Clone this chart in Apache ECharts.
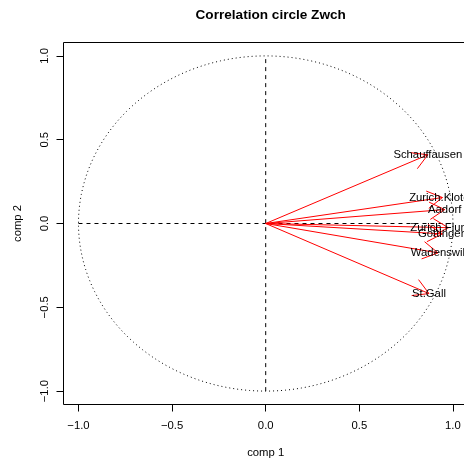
<!DOCTYPE html>
<html>
<head>
<meta charset="utf-8">
<script src="https://cdn.jsdelivr.net/npm/echarts@6/dist/echarts.min.js"></script>
<style>html,body{margin:0;padding:0;background:#fff;overflow:hidden;}#chart{width:474px;height:461px;}</style>
</head>
<body>
<div id="chart"></div>
<script>
const variables = ['Schauffausen', 'Zurich.Kloten', 'Aadorf', 'Zurich.Fluntern', 'Gottingen', 'Wadenswil', 'St.Gall'];
const comp1 = [0.866, 0.944, 0.956, 0.975, 0.944, 0.920, 0.872];
const comp2 = [0.410, 0.155, 0.083, -0.025, -0.062, -0.175, -0.418];
const tickValues = [-1, -0.5, 0, 0.5, 1];

const FONT = 'Liberation Sans, Arial, Helvetica, sans-serif';
const fmt = v => (v < 0 ? '\u2212' : '') + Math.abs(v).toFixed(1);
const arrowData = variables.map((n, i) => [comp1[i], comp2[i], n]);

const chart = echarts.init(document.getElementById('chart'), null, {renderer: 'canvas'});
chart.setOption({
  animation: false,
  backgroundColor: '#fff',
  title: {
    text: 'Correlation circle Zwch',
    left: 265.7, top: 3, textAlign: 'center',
    textStyle: {fontFamily: FONT, fontSize: 13.6, fontWeight: 'bold', color: '#000'}
  },
  grid: {
    left: 63.5, top: 42.5, width: 404.4, height: 362,
    outerBoundsMode: 'none', containLabel: false,
    show: true, borderColor: '#000', borderWidth: 1, backgroundColor: 'transparent'
  },
  xAxis: {
    type: 'value', min: -1.08, max: 1.08,
    name: 'comp 1', nameLocation: 'middle', nameGap: 43,
    nameTextStyle: {fontFamily: FONT, fontSize: 11.3, color: '#000'},
    axisLine: {show: false, onZero: false},
    axisTick: {show: true, length: 7, inside: false, customValues: tickValues, lineStyle: {color: '#000'}},
    axisLabel: {show: true, customValues: tickValues, formatter: fmt, margin: 16,
      fontFamily: FONT, fontSize: 11.3, color: '#000'},
    splitLine: {show: false}
  },
  yAxis: {
    type: 'value', min: -1.08, max: 1.08,
    name: 'comp 2', nameLocation: 'middle', nameGap: 40,
    nameTextStyle: {fontFamily: FONT, fontSize: 11.3, color: '#000'},
    axisLine: {show: false, onZero: false},
    axisTick: {show: true, length: 7, inside: false, customValues: tickValues, lineStyle: {color: '#000'}},
    axisLabel: {show: true, customValues: tickValues, formatter: fmt, margin: 13, rotate: 90,
      fontFamily: FONT, fontSize: 11.3, color: '#000'},
    splitLine: {show: false}
  },
  series: [
    {
      type: 'custom', name: 'circle', data: [[0, 0]], z: 1,
      renderItem: function (params, api) {
        const pts = [];
        const N = 360;
        for (let k = 0; k <= N; k++) {
          const t = 2 * Math.PI * k / N;
          pts.push(api.coord([Math.cos(t), Math.sin(t)]));
        }
        return {type: 'polyline', shape: {points: pts},
          style: {stroke: '#000', lineWidth: 1, lineDash: [1, 3], fill: null}};
      }
    },
    {
      type: 'custom', name: 'axes', data: [[0, 0]], z: 2,
      renderItem: function (params, api) {
        const a = api.coord([-1, 0]), b = api.coord([1, 0]);
        const c = api.coord([0, -1]), d = api.coord([0, 1]);
        const st = {stroke: '#000', lineWidth: 1, lineDash: [4, 4]};
        return {type: 'group', children: [
          {type: 'line', shape: {x1: a[0], y1: a[1], x2: b[0], y2: b[1]}, style: st},
          {type: 'line', shape: {x1: c[0], y1: c[1], x2: d[0], y2: d[1]}, style: st}
        ]};
      }
    },
    {
      type: 'custom', name: 'arrows', data: arrowData, z: 3,
      renderItem: function (params, api) {
        const o = api.coord([0, 0]);
        const p = api.coord([api.value(0), api.value(1)]);
        const ang = Math.atan2(p[1] - o[1], p[0] - o[0]);
        const L = 17.4, h = Math.PI / 6;
        const h1 = [p[0] - L * Math.cos(ang - h), p[1] - L * Math.sin(ang - h)];
        const h2 = [p[0] - L * Math.cos(ang + h), p[1] - L * Math.sin(ang + h)];
        const st = {stroke: '#ff0000', lineWidth: 1, fill: null};
        return {type: 'group', children: [
          {type: 'line', shape: {x1: o[0], y1: o[1], x2: p[0], y2: p[1]}, style: st},
          {type: 'polyline', shape: {points: [h1, p, h2]}, style: st}
        ]};
      }
    },
    {
      type: 'custom', name: 'labels', data: arrowData, z: 4,
      renderItem: function (params, api) {
        const p = api.coord([api.value(0), api.value(1)]);
        return {type: 'text', x: p[0], y: p[1],
          style: {text: arrowData[params.dataIndex][2], fontFamily: FONT, fontSize: 11.3,
            fill: '#000', align: 'center', verticalAlign: 'middle'}};
      }
    }
  ]
});
</script>
</body>
</html>
